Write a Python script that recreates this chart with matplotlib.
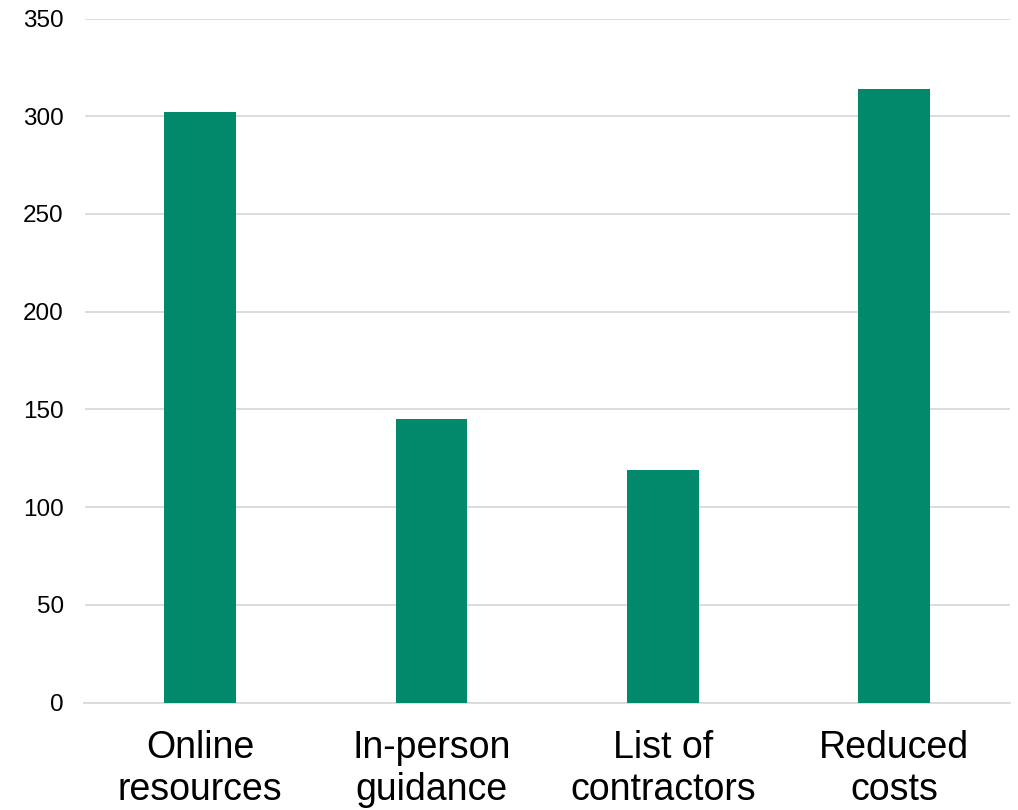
import matplotlib
matplotlib.use("Agg")
import matplotlib.pyplot as plt

categories = ["Online\nresources", "In-person\nguidance", "List of\ncontractors", "Reduced\ncosts"]
values = [302, 145, 119, 314]
yticks = [0, 50, 100, 150, 200, 250, 300, 350]

plt.rcParams['font.family'] = ['Liberation Sans', 'DejaVu Sans']

fig = plt.figure(figsize=(10.18, 8.10), dpi=100)
ax = fig.add_axes([84.5/1018, 1 - 702.5/810, (1010 - 84.5)/1018, (702.5 - 18.5)/810])

x = list(range(len(categories)))
ax.bar(x, values, width=0.31, color="#02886A", zorder=3)

ax.set_xlim(-0.5, 3.5)
ax.set_ylim(0, 350)
ax.set_yticks(yticks)
ax.set_yticklabels([str(t) for t in yticks], fontsize=17.5)
ax.set_xticks(x)
ax.set_xticklabels(categories, fontsize=27, linespacing=1.2)
ax.tick_params(axis='y', length=0, pad=15)
ax.tick_params(axis='x', length=0, pad=20)
ax.grid(axis='y', color='#d9d9d9', linewidth=1.3, zorder=0)
for s in ['top', 'right', 'left']:
    ax.spines[s].set_visible(False)
ax.spines['bottom'].set_color('#d9d9d9')
ax.spines['bottom'].set_linewidth(1.3)

fig.savefig("out.png", dpi=100)
